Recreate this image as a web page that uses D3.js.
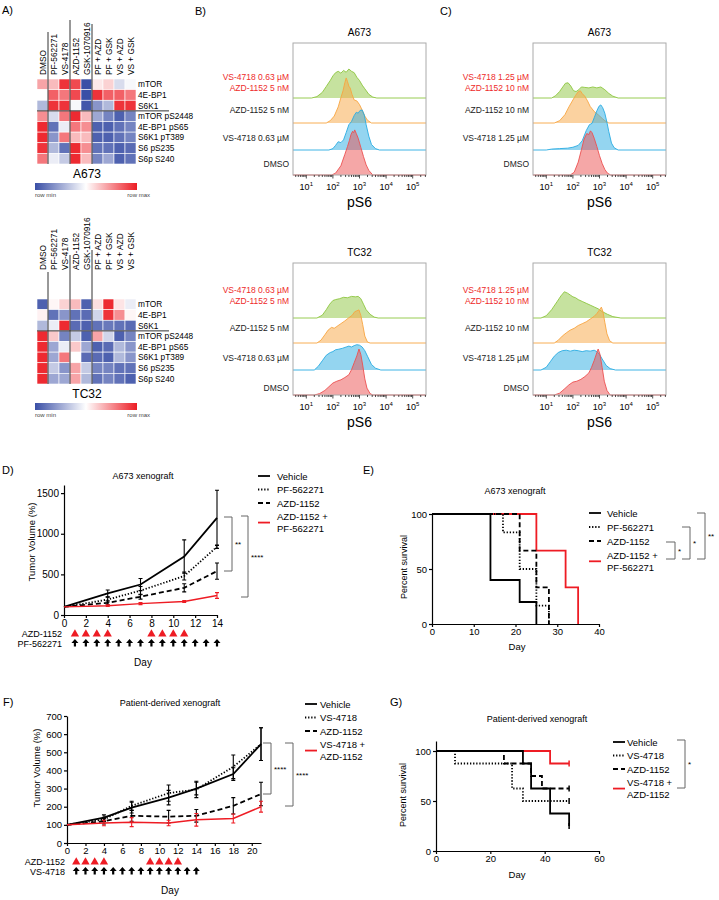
<!DOCTYPE html>
<html><head><meta charset="utf-8">
<script src="https://cdn.jsdelivr.net/npm/d3@7"></script>
<style>body{margin:0;background:#fff} svg text{font-family:"Liberation Sans",Arial,Helvetica,sans-serif}</style>
</head><body><svg id="fig" width="719" height="900"></svg>
<script>
// ---------------- DATA ----------------
const heatCols = ["DMSO","PF-562271","VS-4178","AZD-1152","GSK-1070916","PF + AZD","PF + GSK","VS + AZD","VS + GSK"];
const heatRows = ["mTOR","4E-BP1","S6K1","mTOR pS2448","4E-BP1 pS65","S6K1 pT389","S6 pS235","S6p S240"];
const heatA673 = [
 [0.70,0.65,0.95,0.90,0.00,0.55,0.60,0.40,0.48],
 [0.50,0.85,0.80,0.90,0.00,0.95,0.85,0.85,0.80],
 [0.30,0.95,0.95,0.48,0.02,0.20,0.30,0.95,0.95],
 [0.75,0.40,0.80,0.97,0.65,0.25,0.15,0.05,0.15],
 [0.97,0.10,0.45,0.80,0.75,0.05,0.05,0.10,0.15],
 [0.97,0.20,0.80,0.65,0.65,0.05,0.05,0.10,0.15],
 [0.95,0.30,0.10,0.97,0.75,0.10,0.10,0.05,0.08],
 [0.80,0.45,0.35,0.97,0.65,0.15,0.25,0.05,0.10]];
const heatTC32 = [
 [0.05,0.52,0.60,0.65,0.05,0.57,0.97,0.56,0.45],
 [0.53,0.10,0.20,0.10,0.08,0.38,0.95,0.75,0.52],
 [0.30,0.45,0.97,0.08,0.05,0.10,0.12,0.10,0.08],
 [0.97,0.62,0.15,0.35,0.05,0.70,0.38,0.05,0.15],
 [0.97,0.25,0.45,0.62,0.25,0.05,0.08,0.30,0.20],
 [0.97,0.25,0.80,0.50,0.08,0.08,0.05,0.30,0.20],
 [0.97,0.35,0.20,0.70,0.35,0.15,0.15,0.10,0.10],
 [0.97,0.25,0.25,0.70,0.30,0.10,0.15,0.10,0.05]];

// flow histograms: [log10(pS6), % of mode]; order: combo, AZD, VS, DMSO
const flowLabelsB = [["VS-4718 0.63 µM","AZD-1152 5 nM"],"AZD-1152 5 nM","VS-4718 0.63 µM","DMSO"];
const flowLabelsC = [["VS-4718 1.25 µM","AZD-1152 10 nM"],"AZD-1152 10 nM","VS-4718 1.25 µM","DMSO"];
const flowB_A673 = [
 [[1.2,0],[1.4,3],[1.6,12],[1.75,25],[1.9,38],[2.0,48],[2.1,55],[2.2,58],[2.3,54],[2.4,60],[2.5,56],[2.6,63],[2.7,58],[2.8,55],[2.9,45],[3.0,38],[3.1,28],[3.2,20],[3.35,8],[3.5,2],[3.65,0]],
 [[1.75,0],[1.9,5],[2.05,15],[2.2,35],[2.3,55],[2.38,70],[2.45,88],[2.5,98],[2.55,90],[2.6,80],[2.65,76],[2.72,62],[2.8,50],[2.9,48],[3.0,40],[3.1,28],[3.2,15],[3.3,6],[3.45,0]],
 [[1.85,0],[2.0,3],[2.1,10],[2.2,18],[2.3,16],[2.4,22],[2.5,38],[2.6,55],[2.7,62],[2.8,75],[2.88,82],[2.95,80],[3.02,86],[3.1,87],[3.18,76],[3.25,55],[3.35,30],[3.45,12],[3.6,3],[3.75,0]],
 [[1.95,0],[2.1,4],[2.3,20],[2.45,45],[2.55,62],[2.62,75],[2.68,88],[2.74,95],[2.78,92],[2.82,98],[2.88,90],[2.95,80],[3.05,60],[3.15,40],[3.25,22],[3.35,10],[3.5,0]]];
const flowC_A673 = [
 [[1.2,0],[1.35,5],[1.5,14],[1.62,24],[1.72,32],[1.82,33],[1.92,26],[2.02,16],[2.12,14],[2.22,18],[2.32,24],[2.45,23],[2.6,22],[2.75,24],[2.9,22],[3.05,24],[3.2,18],[3.35,10],[3.5,4],[3.7,0]],
 [[1.3,0],[1.5,5],[1.7,18],[1.85,35],[2.0,50],[2.1,60],[2.2,68],[2.28,70],[2.35,64],[2.45,58],[2.55,48],[2.65,36],[2.8,25],[2.95,18],[3.1,10],[3.2,5],[3.35,0]],
 [[1.0,0],[1.2,2],[1.5,3],[1.8,4],[2.0,6],[2.2,10],[2.35,20],[2.5,42],[2.62,55],[2.72,58],[2.8,70],[2.9,85],[2.98,95],[3.05,98],[3.12,92],[3.2,80],[3.28,60],[3.35,40],[3.45,15],[3.55,5],[3.7,0]],
 [[1.9,0],[2.05,6],[2.2,28],[2.32,55],[2.42,78],[2.52,90],[2.6,88],[2.66,96],[2.72,92],[2.8,80],[2.9,62],[3.0,42],[3.1,25],[3.2,12],[3.3,4],[3.42,0]]];
const flowB_TC32 = [
 [[1.4,0],[1.6,6],[1.75,18],[1.88,30],[2.0,38],[2.1,40],[2.25,42],[2.4,45],[2.55,44],[2.7,47],[2.85,46],[2.95,47],[3.05,42],[3.15,30],[3.25,18],[3.4,8],[3.55,2],[3.7,0]],
 [[1.4,0],[1.55,6],[1.7,18],[1.82,28],[1.95,34],[2.05,32],[2.15,36],[2.3,42],[2.45,48],[2.6,55],[2.72,60],[2.82,68],[2.9,70],[2.98,72],[3.05,60],[3.12,40],[3.2,15],[3.3,2],[3.4,0]],
 [[1.3,0],[1.45,8],[1.6,20],[1.75,32],[1.9,38],[2.0,40],[2.1,44],[2.2,45],[2.35,47],[2.5,50],[2.6,52],[2.7,50],[2.8,53],[2.9,55],[3.0,54],[3.1,50],[3.2,42],[3.3,30],[3.45,12],[3.6,4],[3.8,0]],
 [[1.3,0],[1.5,3],[1.7,10],[1.85,18],[2.0,26],[2.15,30],[2.3,33],[2.45,38],[2.6,44],[2.7,55],[2.8,70],[2.9,85],[2.98,100],[3.05,88],[3.12,65],[3.2,35],[3.28,15],[3.4,3],[3.5,0]]];
const flowC_TC32 = [
 [[0.8,0],[1.0,5],[1.2,18],[1.4,35],[1.55,48],[1.68,57],[1.8,54],[1.9,50],[2.0,46],[2.1,44],[2.2,40],[2.35,36],[2.5,32],[2.65,28],[2.8,24],[2.95,20],[3.1,14],[3.3,8],[3.5,3],[3.8,0]],
 [[1.3,0],[1.45,6],[1.6,15],[1.75,22],[1.9,28],[2.05,32],[2.2,38],[2.35,42],[2.5,46],[2.65,52],[2.8,58],[2.9,64],[3.0,72],[3.07,78],[3.13,68],[3.2,45],[3.28,20],[3.38,5],[3.5,0]],
 [[0.8,0],[1.0,6],[1.15,18],[1.3,30],[1.45,38],[1.6,42],[1.75,43],[1.9,41],[2.05,43],[2.2,42],[2.35,40],[2.5,42],[2.65,41],[2.8,43],[2.9,40],[3.0,34],[3.1,24],[3.25,10],[3.4,3],[3.6,0]],
 [[1.3,0],[1.5,4],[1.7,14],[1.85,22],[2.0,28],[2.15,30],[2.3,34],[2.45,40],[2.6,48],[2.7,60],[2.8,75],[2.9,92],[2.95,100],[3.02,88],[3.1,60],[3.18,30],[3.28,10],[3.4,0]]];
const flowTicks = ["1","2","3","4","5"];

// D: A673 xenograft tumour volume
const daysD = [0,4,7,11,14];
const vehD = [100,265,375,720,1195];   const vehDerr = [0,42,75,205,340];
const pfD  = [100,190,300,480,840];    const pfDerr  = [0,30,50,50,20];
const azdD = [100,150,225,335,540];    const azdDerr = [0,25,30,50,100];
const comboD = [100,115,140,165,240];  const comboDerr = [0,10,12,12,35];
const legendD = ["Vehicle","PF-562271","AZD-1152",["AZD-1152 +","PF-562271"]];
const dosingAzdD = [1,2,3,4,8,9,10,11];
const dosingPfD = [1,2,3,4,5,6,7,8,9,10,11,12,13,14];
const xTicksD = [0,2,4,6,8,10,12,14];
const yTicksD = [0,500,1000,1500];

// E: A673 survival (time, % surviving)
const survVehE = [[0,100],[14,40],[21,20],[25,0]];
const survPfE = [[0,100],[17,83.3],[21,50],[25,16.7],[28,0]];
const survAzdE = [[0,100],[21,66.7],[25,33.3],[28,0]];
const survComboE = [[0,100],[25,66.7],[32,33.3],[35,0]];
const xTicksE = [0,10,20,30,40];
const yTicksE = [0,50,100];

// F: PDX tumour volume
const daysF = [0,4,7,11,14,18,21];
const vehF = [100,140,195,250,300,380,545];  const vehFerr = [0,15,30,40,35,35,90];
const vsF  = [100,130,205,275,295,420,545];  const vsFerr  = [0,12,25,45,45,65,90];
const azdF = [100,120,150,145,150,205,270];  const azdFerr = [0,15,30,35,35,45,65];
const comboF = [100,110,115,110,128,135,200]; const comboFerr = [0,15,25,15,35,25,30];
const legendF = ["Vehicle","VS-4718","AZD-1152",["VS-4718 +","AZD-1152"]];
const dosingAzdF = [1,2,3,4,9,10,11,12];
const dosingVsF = [1,2,3,4,5,6,7,8,9,10,11,12,13,14];
const xTicksF = [0,2,4,6,8,10,12,14,16,18,20];
const yTicksF = [0,100,200,300,400,500,600,700];

// G: PDX survival
const survVehG = [[0,100],[32,87.5],[35,62.5],[42,37.5],[49,25]];
const survVsG = [[0,100],[7,87.5],[28,62.5],[32,50],[49,50]];
const survAzdG = [[0,100],[25,87.5],[35,75],[39,62.5],[49,62.5]];
const survComboG = [[0,100],[42,87.5],[49,87.5]];
const xTicksG = [0,20,40,60];
const yTicksG = [0,50,100];

// ---------------- DRAWING ----------------
const svg = d3.select("#fig");
function txt(g,x,y,s,size,anchor,fill){
  return g.append("text").attr("x",x).attr("y",y).attr("font-size",size)
   .attr("text-anchor",anchor||"start").attr("fill",fill||"#000").text(s);
}
[["A)",2,14],["B)",195,15],["C)",440,15],["D)",2,474],["E)",363,474],["F)",3,706],["G)",390,706]]
 .forEach(d=>txt(svg,d[1],d[2],d[0],11));

// ---- heatmaps ----
const heatColor = d3.scaleLinear().domain([0,0.5,1]).range(["#3a4fa6","#ffffff","#ec1c24"]);
const grad = svg.append("defs").append("linearGradient").attr("id","hg");
[0,0.5,1].forEach(t=>grad.append("stop").attr("offset",t).attr("stop-color",heatColor(t)));

function heatmap(vals,title,top,labelBottom,sepTops){
  const g = svg.append("g");
  const x = d3.scaleBand().domain(heatCols).range([37,136]);
  const y = d3.scaleBand().domain(heatRows).range([top,top+85]);
  heatRows.forEach((r,i)=>heatCols.forEach((c,j)=>{
    g.append("rect").attr("x",x(c)).attr("y",y(r)).attr("width",x.bandwidth()).attr("height",y.bandwidth())
     .attr("fill",heatColor(vals[i][j])).attr("stroke","#fff").attr("stroke-width",0.6);
  }));
  heatCols.forEach(c=>{
    g.append("text").attr("transform",`translate(${x(c)+x.bandwidth()/2+3},${labelBottom}) rotate(-90)`)
     .attr("font-size",8.3).text(c);
  });
  heatRows.forEach(r=>txt(g,138,y(r)+y.bandwidth()/2+3,r,8.3));
  [1,3,5].forEach((ci,k)=>{
    const xx = x(heatCols[ci]);
    g.append("line").attr("x1",xx).attr("x2",xx).attr("y1",sepTops[k]).attr("y2",top+85).attr("stroke","#333").attr("stroke-width",1);
  });
  g.append("line").attr("x1",37).attr("x2",169).attr("y1",y(heatRows[3])).attr("y2",y(heatRows[3])).attr("stroke","#333").attr("stroke-width",1);
  txt(g,87,top+99,title,12,"middle");
  g.append("rect").attr("x",35).attr("y",top+104).attr("width",102).attr("height",7).attr("fill","url(#hg)");
  txt(g,35,top+118,"row min",6,"start","#444");
  txt(g,150,top+118,"row max",6,"end","#444");
}
heatmap(heatA673,"A673",79,75,[32,20,24]);
heatmap(heatTC32,"TC32",299,270,[272,255,250]);

// ---- flow histograms ----
const flowColors = ["#8dc63f","#f7a541","#29abe2","#ec5050"];
function flowPanel(ox,oy,title,labels,series,labelYs){
  const g = svg.append("g");
  const w = 133, h = 132;
  const x = d3.scaleLog().domain([Math.pow(10,0.5),Math.pow(10,5.5)]).range([ox,ox+w]);
  const yh = d3.scaleLinear().domain([0,100]).range([0,46]);
  const bases = [55,80,107,132];
  txt(g,ox+w/2,oy-7,title,10,"middle");
  g.append("rect").attr("x",ox).attr("y",oy).attr("width",w).attr("height",h).attr("fill","#fff");
  series.forEach((s,i)=>{
    const b = oy+bases[i];
    const pts = [[0.5,0]].concat(s).concat([[5.5,0]]);
    const area = d3.area().x(d=>x(Math.pow(10,d[0]))).y0(b).y1(d=>b-yh(d[1]));
    const line = d3.line().x(d=>x(Math.pow(10,d[0]))).y(d=>b-yh(d[1]));
    g.append("path").attr("d",area(pts)).attr("fill",flowColors[i]).attr("fill-opacity",0.5);
    g.append("path").attr("d",line(pts)).attr("fill","none").attr("stroke",flowColors[i]).attr("stroke-width",0.9);
  });
  g.append("rect").attr("x",ox).attr("y",oy).attr("width",w).attr("height",h).attr("fill","none").attr("stroke","#aaa").attr("stroke-width",1);
  const ticks = [];
  for(let e=0;e<=5;e++) for(let k=1;k<=9;k++){ const v=k*Math.pow(10,e); if(v>=Math.pow(10,0.5)&&v<=Math.pow(10,5.5)) ticks.push([v,k===1]); }
  ticks.forEach(t=>g.append("line").attr("x1",x(t[0])).attr("x2",x(t[0])).attr("y1",oy+h).attr("y2",oy+h+(t[1]?3.5:2)).attr("stroke","#222").attr("stroke-width",0.8));
  flowTicks.forEach(p=>{
    const t = g.append("text").attr("x",x(Math.pow(10,+p))).attr("y",oy+h+15).attr("font-size",9).attr("text-anchor","middle");
    t.append("tspan").text("10");
    t.append("tspan").attr("dy",-4).attr("font-size",6).text(p);
  });
  txt(g,ox+w/2,oy+h+32,"pS6",14,"middle");
  labels.forEach((l,i)=>{
    if(Array.isArray(l)){
      txt(g,ox-4,oy+labelYs[0],l[0],8.5,"end","#ee2a2a");
      txt(g,ox-4,oy+labelYs[1],l[1],8.5,"end","#ee2a2a");
    } else txt(g,ox-4,oy+labelYs[i+1],l,8.5,"end","#222");
  });
}
flowPanel(293,43,"A673",flowLabelsB,flowB_A673,[37,48,70,98,124]);
flowPanel(533,43,"A673",flowLabelsC,flowC_A673,[37,48,70,98,124]);
flowPanel(293,263,"TC32",flowLabelsB,flowB_TC32,[30,41,68,98,128]);
flowPanel(533,263,"TC32",flowLabelsC,flowC_TC32,[30,41,68,98,128]);

// ---- helpers for line charts ----
function styleAxis(sel,size){
  sel.selectAll("path,line").attr("stroke","#000").attr("stroke-width",1.2);
  sel.selectAll("text").attr("font-size",size).attr("fill","#000");
}
const styles = [{dash:null,color:"#000"},{dash:"1.3,1.8",color:"#000"},{dash:"5,3",color:"#000"},{dash:null,color:"#ee1c24"}];
function legend(g,x,y0,items,step,size,textOff){
  items.forEach((it,i)=>{
    const yy = y0+i*step;
    const st = styles[i];
    const ly = Array.isArray(it)? yy+step*0.45 : yy;
    g.append("line").attr("x1",x).attr("x2",x+12).attr("y1",ly).attr("y2",ly).attr("stroke",st.color)
     .attr("stroke-width",1.8).attr("stroke-dasharray",st.dash);
    if(Array.isArray(it)){ txt(g,x+textOff,yy+3.5,it[0],size); txt(g,x+textOff,yy+step*0.9+3.5,it[1],size); }
    else txt(g,x+textOff,yy+3.5,it,size);
  });
}
function bracket(g,x,x0,y1,y2,label,color){
  g.append("path").attr("d",`M${x0},${y1}H${x}V${y2}H${x0}`).attr("fill","none").attr("stroke",color||"#666").attr("stroke-width",1);
  txt(g,x+3,(y1+y2)/2+3,label,8,"start");
}
const arrowPath = "M0,-4L3.5,0L1.1,0L1.1,3.5L-1.1,3.5L-1.1,0L-3.5,0Z";
const triPath = d3.symbol(d3.symbolTriangle,30)();

function growthChart(o){
  const g = svg.append("g");
  const x = d3.scaleLinear().domain(o.xDomain).range(o.xRange);
  const y = d3.scaleLinear().domain(o.yDomain).range(o.yRange);
  const ax = g.append("g").attr("transform",`translate(0,${o.yRange[0]})`)
    .call(d3.axisBottom(x).tickValues(o.xTicks).tickFormat(d3.format("d")).tickSize(3).tickPadding(1.5).tickSizeOuter(0));
  styleAxis(ax,o.tickSize);
  const ay = g.append("g").attr("transform",`translate(${o.xRange[0]},0)`)
    .call(d3.axisLeft(y).tickValues(o.yTicks).tickFormat(d3.format("d")).tickSize(3).tickPadding(2).tickSizeOuter(0));
  styleAxis(ay,o.tickSize);
  o.series.forEach((s,i)=>{
    const st = styles[i];
    s.vals.forEach((v,k)=>{
      const e = s.errs[k]; if(!e) return;
      const xx = x(o.days[k]);
      g.append("path").attr("d",`M${xx-2},${y(v+e)}H${xx+2}M${xx},${y(v+e)}V${y(v-e)}M${xx-2},${y(v-e)}H${xx+2}`)
       .attr("stroke",st.color).attr("stroke-width",1.1).attr("fill","none");
    });
    const line = d3.line().x((d,k)=>x(o.days[k])).y(d=>y(d));
    g.append("path").attr("d",line(s.vals)).attr("fill","none").attr("stroke",st.color)
     .attr("stroke-width",i===3?1.5:1.8).attr("stroke-dasharray",st.dash);
  });
  txt(g,o.titleX,o.titleY,o.title,9,"middle");
  g.append("text").attr("transform",`translate(${o.ylabX},${o.ylabY}) rotate(-90)`).attr("text-anchor","middle")
   .attr("font-size",9.5).text("Tumor Volume (%)");
  txt(g,o.xRange[0]-2,o.doseY1+3,o.doseNames[0],9,"end");
  txt(g,o.xRange[0]-2,o.doseY2+4,o.doseNames[1],9,"end");
  o.dose1.forEach(d=>g.append("path").attr("d",triPath).attr("fill","#ee1c24").attr("transform",`translate(${x(d)},${o.doseY1})`));
  o.dose2.forEach(d=>g.append("path").attr("d",arrowPath).attr("fill","#000").attr("transform",`translate(${x(d)},${o.doseY2})`));
  txt(g,o.dayX,o.dayY,"Day",10,"middle");
  legend(g,o.legX,o.legY,o.legend,13.5,9.5,o.legOff);
  o.brackets.forEach(b=>bracket(g,b[0],b[1],b[2],b[3],b[4]));
}
growthChart({xDomain:[0,14],xRange:[64,217],yDomain:[0,1600],yRange:[615,485],xTicks:xTicksD,yTicks:yTicksD,tickSize:10,
  days:daysD,series:[{vals:vehD,errs:vehDerr},{vals:pfD,errs:pfDerr},{vals:azdD,errs:azdDerr},{vals:comboD,errs:comboDerr}],
  title:"A673 xenograft",titleX:143,titleY:479,ylabX:35,ylabY:542,
  doseNames:["AZD-1152","PF-562271"],dose1:dosingAzdD,dose2:dosingPfD,doseY1:634,doseY2:643,dayX:143,dayY:666,
  legX:258,legY:476,legend:legendD,legOff:19,brackets:[[232,224,517,571,"**"],[248,241,516,597,"****"]]});
growthChart({xDomain:[0,21],xRange:[67,261],yDomain:[0,700],yRange:[843,716],xTicks:xTicksF,yTicks:yTicksF,tickSize:9.5,
  days:daysF,series:[{vals:vehF,errs:vehFerr},{vals:vsF,errs:vsFerr},{vals:azdF,errs:azdFerr},{vals:comboF,errs:comboFerr}],
  title:"Patient-derived xenograft",titleX:170,titleY:706,ylabX:40,ylabY:768,
  doseNames:["AZD-1152","VS-4718"],dose1:dosingAzdF,dose2:dosingVsF,doseY1:862,doseY2:871,dayX:170,dayY:894,
  legX:305,legY:704,legend:legendF,legOff:15,brackets:[[271,263,743,794,"****"],[293,285,743,806,"****"]]});

function survChart(o){
  const g = svg.append("g");
  const x = d3.scaleLinear().domain(o.xDomain).range(o.xRange);
  const y = d3.scaleLinear().domain(o.yDomain).range(o.yRange);
  const ax = g.append("g").attr("transform",`translate(0,${o.yRange[0]})`)
    .call(d3.axisBottom(x).tickValues(o.xTicks).tickFormat(d3.format("d")).tickSize(3).tickPadding(1.5).tickSizeOuter(0));
  styleAxis(ax,9.5);
  const ay = g.append("g").attr("transform",`translate(${o.xRange[0]},0)`)
    .call(d3.axisLeft(y).tickValues(o.yTicks).tickFormat(d3.format("d")).tickSize(3).tickPadding(2).tickSizeOuter(0));
  styleAxis(ay,9.5);
  const line = d3.line().x(d=>x(d[0])).y(d=>y(d[1])).curve(d3.curveStepAfter);
  // draw red combination first so that the other curves lie on top of it
  [3,2,1,0].forEach(i=>{
    const s = o.series[i], st = styles[i];
    g.append("path").attr("d",line(s)).attr("fill","none").attr("stroke",st.color)
     .attr("stroke-width",1.8).attr("stroke-dasharray",st.dash);
    if(o.censor){ const last = s[s.length-1];
      g.append("line").attr("x1",x(last[0])).attr("x2",x(last[0])).attr("y1",y(last[1])-3).attr("y2",y(last[1])+3)
       .attr("stroke",st.color).attr("stroke-width",1.5); }
  });
  txt(g,o.titleX,o.titleY,o.title,9,"middle");
  g.append("text").attr("transform",`translate(${o.ylabX},${o.ylabY}) rotate(-90)`).attr("text-anchor","middle")
   .attr("font-size",9).text("Percent survival");
  txt(g,o.dayX,o.dayY,"Day",9.5,"middle");
  legend(g,o.legX,o.legY,o.legend,o.legStep,9.5,o.legOff);
  o.brackets.forEach(b=>bracket(g,b[0],b[1],b[2],b[3],b[4]));
}
survChart({xDomain:[0,40],xRange:[432,599],yDomain:[0,100],yRange:[624,514],xTicks:xTicksE,yTicks:yTicksE,
  series:[survVehE,survPfE,survAzdE,survComboE],censor:false,
  title:"A673 xenograft",titleX:515,titleY:494,ylabX:407,ylabY:567,dayX:517,dayY:650,
  legX:589,legY:513,legend:legendD,legStep:14,legOff:18,
  brackets:[[675,666,542,559,"*"],[690,682,527,559,"*"],[705,697,513,559,"**"]]});
survChart({xDomain:[0,60],xRange:[436,599],yDomain:[0,110],yRange:[851,741],xTicks:xTicksG,yTicks:yTicksG,
  series:[survVehG,survVsG,survAzdG,survComboG],censor:true,
  title:"Patient-derived xenograft",titleX:537,titleY:722,ylabX:406,ylabY:795,dayX:517,dayY:878,
  legX:613,legY:742,legend:legendF,legStep:13.5,legOff:14,
  brackets:[[685,677,740,788,"*"]]});
</script></body></html>
